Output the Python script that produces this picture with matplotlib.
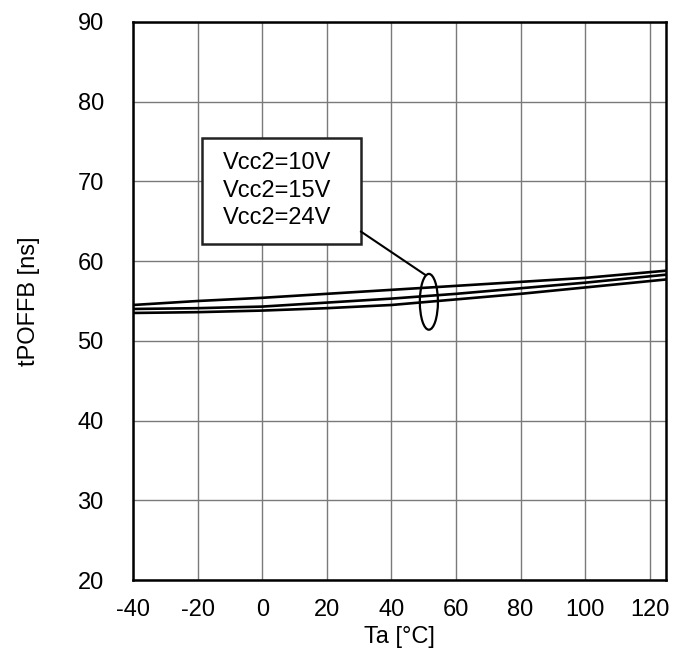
import matplotlib
matplotlib.use("Agg")
import matplotlib.pyplot as plt
from matplotlib.patches import Ellipse, Rectangle

plt.rcParams['font.family'] = ['Liberation Sans', 'DejaVu Sans']
plt.rcParams['axes.unicode_minus'] = False

temp = [-40, -20, 0, 20, 40, 60, 80, 100, 125]
t_10v = [54.5, 55.0, 55.4, 55.9, 56.4, 56.9, 57.4, 57.9, 58.8]
t_15v = [54.0, 54.1, 54.3, 54.8, 55.3, 55.9, 56.6, 57.3, 58.3]
t_24v = [53.5, 53.6, 53.8, 54.1, 54.5, 55.2, 55.9, 56.7, 57.7]
labels = ["Vcc2=10V", "Vcc2=15V", "Vcc2=24V"]
xticks = [-40, -20, 0, 20, 40, 60, 80, 100, 120]
yticks = [20, 30, 40, 50, 60, 70, 80, 90]

FS = 17

fig = plt.figure(figsize=(6.82, 6.54), dpi=100)
ax = fig.add_axes([0.195, 0.1131, 0.7815, 0.8533])

for ys in (t_10v, t_15v, t_24v):
    ax.plot(temp, ys, color='black', lw=1.9, zorder=3)

ax.set_xlim(-40, 125)
ax.set_ylim(20, 90)
ax.set_xticks(xticks)
ax.set_yticks(yticks)
ax.grid(True, color='#7a7a7a', lw=1.0, zorder=1)
ax.tick_params(length=0, labelsize=FS, colors='black')
ax.tick_params(axis='x', pad=14)
ax.tick_params(axis='y', pad=21)
for s in ax.spines.values():
    s.set_linewidth(1.8)
    s.set_color('black')
    s.set_zorder(4)

ax.set_xlabel("Ta [°C]", fontsize=FS, labelpad=3)
ax.set_ylabel("tPOFFB [ns]", fontsize=FS, labelpad=27)

# Callout box
box = Rectangle((-18.6, 62.2), 49.2, 13.3, facecolor='white', edgecolor='#222222', lw=1.8, zorder=5)
ax.add_patch(box)
for i, lab in enumerate(labels):
    ax.text(4.5, 72.3 - i * 3.45, lab, fontsize=FS, ha='center', va='center', zorder=6)
ax.plot([30.6, 50.4], [63.7, 58.3], color='black', lw=1.5, zorder=5)
ell = Ellipse((51.6, 54.9), 5.6, 7.0, facecolor='none', edgecolor='black', lw=1.6, zorder=5)
ax.add_patch(ell)

fig.savefig("out.png", dpi=100)
